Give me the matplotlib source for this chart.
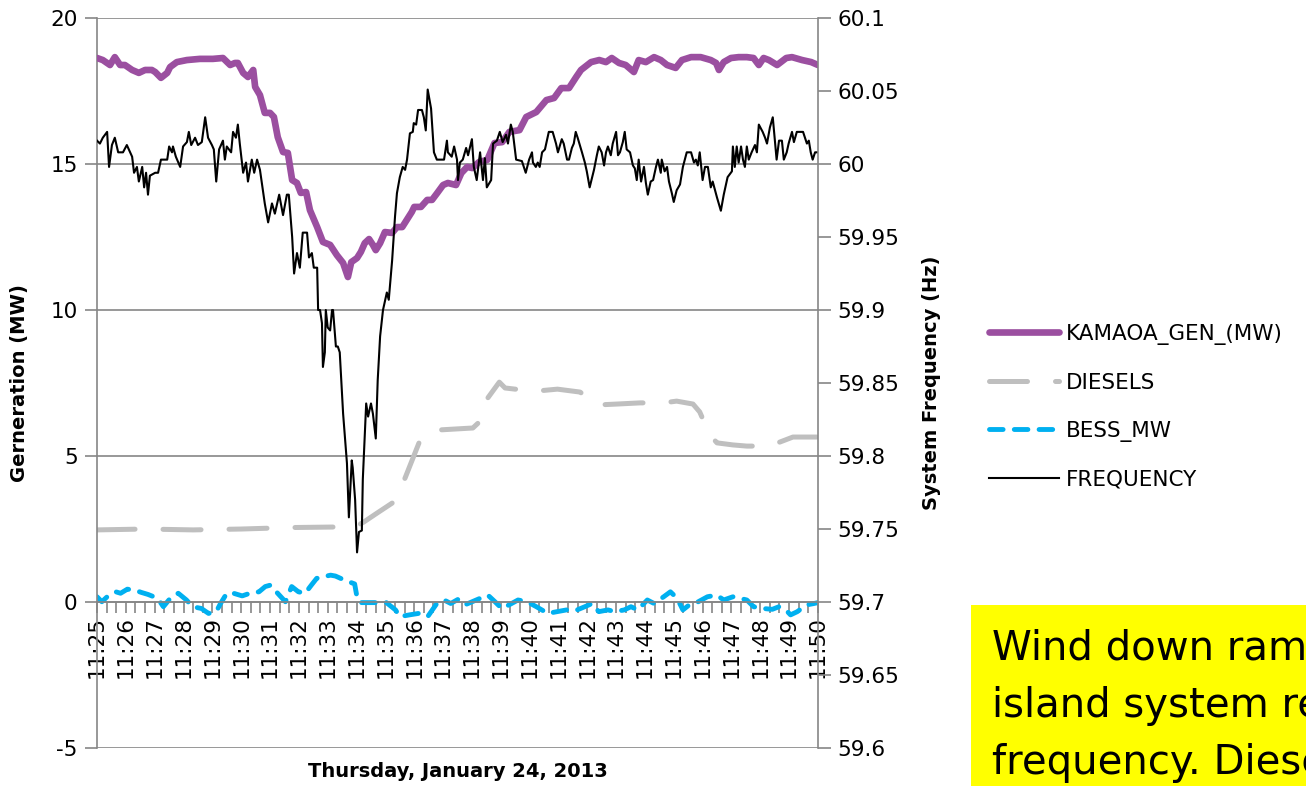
import matplotlib
matplotlib.use("Agg")
import matplotlib.pyplot as plt
from matplotlib.ticker import FuncFormatter, MultipleLocator
from matplotlib.patches import Rectangle

# x in seconds after 11:25:00
tick_labels = ["11:25", "11:26", "11:27", "11:28", "11:29", "11:30", "11:31", "11:32", "11:33",
               "11:34", "11:35", "11:36", "11:37", "11:38", "11:39", "11:40", "11:41", "11:42",
               "11:43", "11:44", "11:45", "11:46", "11:47", "11:48", "11:49", "11:50"]

kam_sec = [0, 12, 27, 37, 48, 58, 73, 87, 100, 114, 121, 133, 146, 152, 166, 187, 214, 241, 262, 277,
           287, 293, 304, 314, 325, 329, 339, 349, 360, 368, 376, 387, 397, 406, 416, 424, 435, 443, 458, 470,
           485, 499, 512, 522, 529, 541, 549, 557, 566, 574, 580, 589, 599, 614, 624, 635, 645, 655, 660, 674,
           687, 697, 708, 720, 730, 747, 758, 770, 781, 795, 812, 827, 843, 858, 879, 893, 914, 935, 951, 966,
           982, 997, 1007, 1028, 1045, 1059, 1071, 1086, 1100, 1117, 1127, 1142, 1159, 1173, 1186, 1204, 1217,
           1236, 1256, 1277, 1288, 1294, 1304, 1319, 1335, 1352, 1366, 1377, 1387, 1398, 1415, 1434, 1446,
           1467, 1486, 1500]
kam_mw = [18.63, 18.56, 18.39, 18.66, 18.39, 18.39, 18.22, 18.12, 18.22, 18.22, 18.15, 17.95, 18.12, 18.32,
          18.49, 18.56, 18.60, 18.60, 18.63, 18.39, 18.46, 18.46, 18.12, 17.98, 18.22, 17.64, 17.36, 16.75,
          16.75, 16.61, 15.92, 15.41, 15.38, 14.45, 14.35, 14.01, 14.04, 13.42, 12.84, 12.33, 12.23, 11.88,
          11.61, 11.13, 11.64, 11.78, 11.99, 12.29, 12.43, 12.23, 12.05, 12.29, 12.67, 12.64, 12.84, 12.84,
          13.10, 13.36, 13.53, 13.53, 13.77, 13.77, 14.01, 14.28, 14.35, 14.28, 14.69, 14.90, 14.86, 15.07,
          15.14, 15.72, 15.75, 16.10, 16.16, 16.61, 16.78, 17.19, 17.26, 17.60, 17.60, 17.98, 18.22, 18.49,
          18.56, 18.49, 18.63, 18.46, 18.39, 18.15, 18.56, 18.49, 18.66, 18.56, 18.39, 18.29, 18.56, 18.66,
          18.66, 18.56, 18.46, 18.22, 18.49, 18.63, 18.66, 18.66, 18.63, 18.39, 18.63, 18.56, 18.39, 18.63,
          18.66, 18.56, 18.49, 18.39]

dsl_sec = [0, 100, 200, 300, 400, 500, 540, 555, 583, 617, 641, 674, 709, 782, 795, 810, 837, 849, 870, 918,
           958, 1005, 1042, 1082, 1130, 1178, 1206, 1240, 1254, 1275, 1290, 1323, 1352, 1396, 1421, 1448, 1500]
dsl_mw = [2.47, 2.50, 2.47, 2.50, 2.55, 2.57, 2.60, 2.74, 3.05, 3.42, 4.25, 5.62, 5.89, 5.96, 6.16, 6.92,
          7.53, 7.33, 7.29, 7.23, 7.29, 7.19, 6.75, 6.78, 6.82, 6.82, 6.88, 6.78, 6.51, 5.72, 5.45, 5.38,
          5.34, 5.34, 5.48, 5.65, 5.65]

bess_sec = [0, 10, 25, 39, 49, 63, 78, 92, 106, 126, 138, 155, 169, 186, 199, 217, 232, 248, 257, 270,
            284, 302, 318, 337, 350, 361, 373, 392, 405, 419, 433, 446, 457, 472, 486, 496, 515, 536, 542, 549,
            602, 621, 630, 650, 669, 688, 707, 722, 736, 751, 765, 789, 813, 828, 842, 857, 876, 895, 914, 938,
            957, 977, 996, 1015, 1030, 1044, 1063, 1078, 1097, 1111, 1125, 1145, 1159, 1179, 1193, 1207, 1219,
            1236, 1251, 1270, 1289, 1304, 1323, 1337, 1352, 1366, 1385, 1405, 1419, 1433, 1443, 1457, 1476,
            1492, 1500]
bess_mw = [0.18, 0.01, 0.24, 0.35, 0.30, 0.44, 0.41, 0.33, 0.26, 0.13, -0.16, 0.18, 0.30, 0.07, -0.16, -0.22,
           -0.39, -0.33, -0.05, 0.30, 0.30, 0.21, 0.30, 0.35, 0.53, 0.58, 0.35, 0.01, 0.53, 0.35, 0.30, 0.58,
           0.81, 0.87, 0.92, 0.89, 0.75, 0.62, 0.07, -0.02, -0.02, -0.27, -0.50, -0.44, -0.39, -0.50, -0.05,
           0.07, -0.05, 0.09, -0.10, 0.07, 0.24, 0.01, -0.22, -0.10, 0.07, 0.01, -0.16, -0.39, -0.33, -0.27,
           -0.29, -0.16, -0.05, -0.33, -0.27, -0.33, -0.27, -0.16, -0.27, 0.07, -0.05, 0.18, 0.35, 0.13, -0.27,
           -0.05, 0.01, 0.18, 0.24, 0.07, 0.18, 0.13, 0.07, -0.16, -0.22, -0.25, -0.16, -0.27, -0.44, -0.33,
           -0.10, -0.05, -0.02]

freq_sec = [0, 6, 12, 21, 25, 31, 37, 44, 54, 62, 73, 77, 83, 87, 94, 98, 102, 106, 110, 121, 127, 133, 146,
            150, 156, 158, 164, 173, 179, 187, 191, 196, 204, 210, 218, 225, 231, 239, 243, 248, 254, 262, 266,
            270, 279, 283, 289, 293, 297, 304, 310, 314, 322, 327, 333, 339, 349, 356, 364, 370, 379, 387, 395,
            399, 406, 410, 416, 422, 428, 437, 441, 447, 451, 458, 460, 464, 468, 470, 474, 476, 480, 485, 489,
            491, 497, 501, 505, 512, 520, 524, 530, 532, 537, 541, 545, 551, 553, 560, 564, 570, 574, 580, 584,
            589, 595, 603, 607, 614, 620, 624, 630, 636, 641, 645, 651, 657, 659, 664, 668, 676, 680, 684, 688,
            695, 701, 707, 713, 722, 728, 730, 738, 743, 749, 751, 755, 761, 768, 772, 780, 784, 790, 797, 803,
            807, 811, 820, 824, 832, 838, 844, 851, 855, 861, 865, 872, 884, 892, 899, 905, 907, 913, 917, 921,
            926, 932, 940, 948, 955, 959, 967, 971, 978, 982, 988, 992, 996, 1000, 1009, 1015, 1019, 1025, 1034,
            1040, 1044, 1050, 1055, 1059, 1063, 1069, 1073, 1080, 1084, 1088, 1094, 1098, 1102, 1109, 1115,
            1119, 1123, 1127, 1132, 1138, 1142, 1146, 1152, 1157, 1163, 1167, 1173, 1175, 1181, 1186, 1190,
            1196, 1200, 1206, 1213, 1219, 1227, 1236, 1242, 1246, 1250, 1254, 1260, 1265, 1271, 1277, 1281,
            1290, 1298, 1304, 1312, 1321, 1323, 1327, 1331, 1335, 1340, 1344, 1348, 1352, 1356, 1362, 1369,
            1373, 1377, 1385, 1390, 1394, 1400, 1406, 1414, 1419, 1425, 1429, 1435, 1439, 1446, 1450, 1456,
            1469, 1477, 1481, 1485, 1489, 1494, 1500]
freq_hz = [60.016, 60.014, 60.018, 60.022, 59.998, 60.013, 60.018, 60.008, 60.008, 60.013, 60.005, 59.994,
           59.998, 59.988, 59.998, 59.984, 59.994, 59.979, 59.992, 59.994, 59.994, 60.003, 60.003, 60.012,
           60.008, 60.012, 60.005, 59.998, 60.012, 60.015, 60.022, 60.013, 60.018, 60.013, 60.015, 60.032,
           60.018, 60.013, 60.010, 59.988, 60.010, 60.016, 60.003, 60.012, 60.008, 60.022, 60.018, 60.027,
           60.014, 59.994, 60.001, 59.988, 60.003, 59.994, 60.003, 59.996, 59.973, 59.960, 59.973, 59.966,
           59.979, 59.965, 59.979, 59.979, 59.950, 59.925, 59.939, 59.929, 59.953, 59.953, 59.936, 59.939,
           59.929, 59.929, 59.900, 59.900, 59.891, 59.861, 59.871, 59.900, 59.888, 59.886, 59.900, 59.900,
           59.875, 59.875, 59.871, 59.829, 59.795, 59.758, 59.797, 59.792, 59.770, 59.734, 59.748, 59.749,
           59.784, 59.836, 59.827, 59.836, 59.829, 59.812, 59.852, 59.882, 59.900, 59.912, 59.907, 59.934,
           59.964, 59.980, 59.991, 59.998, 59.996, 60.003, 60.021, 60.022, 60.028, 60.027, 60.037, 60.037,
           60.032, 60.023, 60.051, 60.038, 60.008, 60.003, 60.003, 60.003, 60.016, 60.008, 60.005, 60.012,
           60.003, 59.989, 60.001, 60.003, 60.011, 60.006, 60.017, 59.998, 59.989, 60.008, 59.989, 60.004,
           59.984, 59.989, 60.014, 60.016, 60.022, 60.015, 60.020, 60.014, 60.027, 60.022, 60.003, 60.002,
           59.994, 60.003, 60.008, 60.001, 59.998, 60.001, 59.998, 60.008, 60.010, 60.022, 60.022, 60.014,
           60.008, 60.017, 60.014, 60.003, 60.003, 60.011, 60.014, 60.022, 60.018, 60.008, 60.001, 59.995,
           59.984, 59.996, 60.006, 60.012, 60.008, 59.999, 60.008, 60.012, 60.006, 60.014, 60.022, 60.006,
           60.008, 60.015, 60.022, 60.010, 60.008, 59.999, 59.997, 59.989, 60.003, 59.988, 59.998, 59.987,
           59.979, 59.988, 59.989, 59.998, 60.003, 59.994, 60.003, 59.995, 59.998, 59.988, 59.980, 59.974,
           59.982, 59.986, 59.998, 60.008, 60.008, 60.001, 60.003, 59.999, 60.008, 59.989, 59.998, 59.998,
           59.984, 59.988, 59.977, 59.968, 59.979, 59.991, 59.995, 60.012, 59.998, 60.012, 60.001, 60.012,
           60.003, 59.998, 60.012, 60.003, 60.008, 60.013, 60.008, 60.027, 60.022, 60.018, 60.014, 60.025,
           60.032, 60.003, 60.016, 60.016, 60.003, 60.008, 60.014, 60.022, 60.015, 60.022, 60.022, 60.014,
           60.016, 60.008, 60.003, 60.008, 60.008]

note_lines = ["Wind down ramp", "island system response", "frequency. Diesels"]

plt.rcParams["font.family"] = ["DejaVu Sans"]
plt.rcParams["axes.unicode_minus"] = False

GRID = "#868686"
TICK_FS = 15.5
LABEL_FS = 14

fig = plt.figure(figsize=(13.06, 7.86), dpi=100)
ax = fig.add_axes([0.0743, 0.0483, 0.552, 0.9288])
ax2 = ax.twinx()

ax.plot(kam_sec, kam_mw, color="#9B4FA0", lw=4.8, solid_capstyle="round",
        solid_joinstyle="round", label="KAMAOA_GEN_(MW)", zorder=3)
ax.plot(dsl_sec, dsl_mw, color="#BFBFBF", lw=3.6, dashes=(7.6, 5.6), dash_capstyle="round",
        label="DIESELS", zorder=2)
ax.plot(bess_sec, bess_mw, color="#00B0F0", lw=3.5, dashes=(2.8, 2.3), dash_capstyle="round",
        label="BESS_MW", zorder=2)
ax2.plot(freq_sec, freq_hz, color="black", lw=1.5, label="FREQUENCY")

ax.set_xlim(0, 1500)
ax.set_ylim(-5, 20)
ax2.set_ylim(59.6, 60.1)

ax.yaxis.set_major_locator(MultipleLocator(5))
ax2.yaxis.set_major_locator(MultipleLocator(0.05))
ax2.yaxis.set_major_formatter(FuncFormatter(lambda v, p: f"{v:.2f}".rstrip("0").rstrip(".")))

ax.set_xticks(range(0, 1501, 60))
ax.set_xticklabels(tick_labels)
ax.xaxis.set_minor_locator(MultipleLocator(20))

ax.grid(axis="y", color=GRID, lw=1.2)
ax.set_axisbelow(True)

for s in ["top", "right"]:
    ax.spines[s].set_visible(False)
ax.spines["bottom"].set_position(("data", 0))
for s in ["left", "bottom"]:
    ax.spines[s].set_color(GRID)
    ax.spines[s].set_linewidth(1.2)
for s in ["left", "top", "bottom"]:
    ax2.spines[s].set_visible(False)
ax2.spines["right"].set_color(GRID)
ax2.spines["right"].set_linewidth(1.2)

ax.tick_params(axis="y", direction="out", length=9, width=1.2, color=GRID, labelsize=TICK_FS, pad=5)
ax.tick_params(axis="x", which="both", direction="out", length=8, width=1.2, color=GRID,
               labelsize=TICK_FS, pad=2, labelrotation=90)
ax2.tick_params(axis="y", direction="out", length=9, width=1.2, color=GRID, labelsize=TICK_FS, pad=5)

ax.set_ylabel("Gerneration (MW)", fontsize=LABEL_FS, fontweight="bold")
ax.yaxis.set_label_coords(-0.0943, 0.5)
ax2.set_ylabel("System Frequency (Hz)", fontsize=LABEL_FS, fontweight="bold")
ax2.yaxis.set_label_coords(1.145, 0.5)
ax.set_xlabel("Thursday, January 24, 2013", fontsize=LABEL_FS, fontweight="bold")
ax.xaxis.set_label_coords(0.5, -0.019)

h1, l1 = ax.get_legend_handles_labels()
h2, l2 = ax2.get_legend_handles_labels()
fig.legend(h1 + h2, l1 + l2, loc="upper left", bbox_to_anchor=(0.757, 0.588), frameon=False,
           fontsize=TICK_FS, handlelength=3.25, handletextpad=0.33, labelspacing=1.3,
           borderpad=0, borderaxespad=0)

fig.patches.append(Rectangle((971 / 1306, 0), 1, (786 - 605) / 786, transform=fig.transFigure,
                             facecolor="#FFFF00", edgecolor="none", zorder=0))
for i, line in enumerate(note_lines):
    fig.text(992 / 1306, (786 - 660 - 57 * i) / 786, line, fontsize=29, va="baseline", ha="left")

fig.savefig("out.png", dpi=100)
